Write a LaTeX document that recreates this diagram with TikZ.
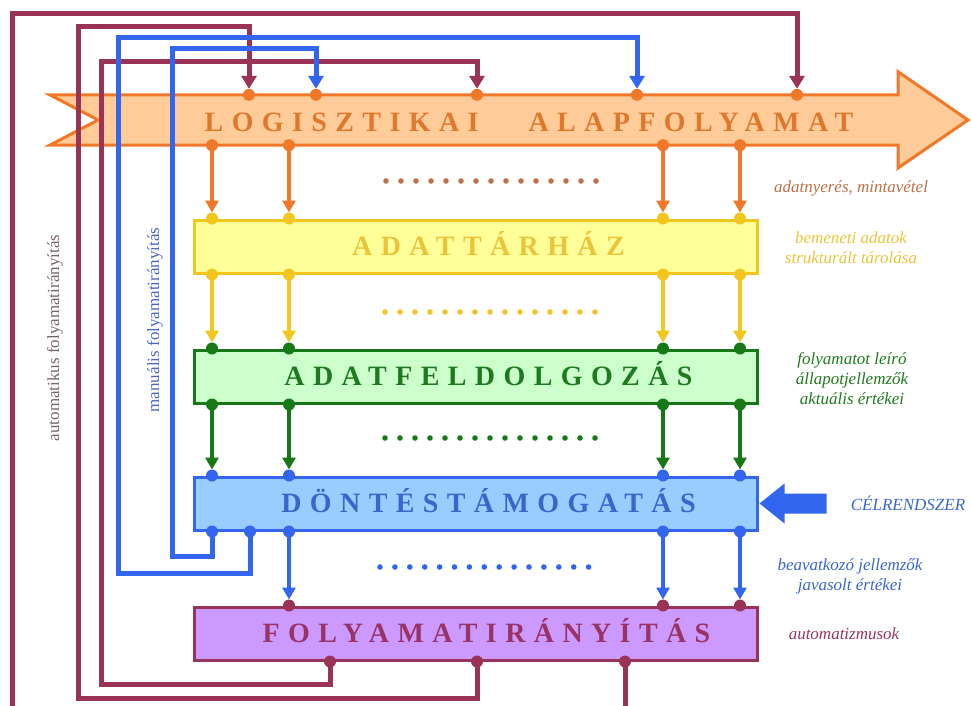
\documentclass[tikz,border=0pt]{standalone}
\usepackage{fontspec}
\usepackage{tikz}
\usetikzlibrary{arrows.meta}
\newfontfamily\titlefont{Liberation Serif}[LetterSpace=30]
\newfontfamily\notefont{Liberation Serif}
\definecolor{logorange}{HTML}{F07828}
\definecolor{logfill}{HTML}{FFCC99}
\definecolor{logtext}{HTML}{E0782C}
\definecolor{taryellow}{HTML}{F2C61E}
\definecolor{tarfill}{HTML}{FFFF99}
\definecolor{tartext}{HTML}{ECC43A}
\definecolor{procgreen}{HTML}{167816}
\definecolor{procfill}{HTML}{CCFFCC}
\definecolor{proctext}{HTML}{1F7A1F}
\definecolor{decblue}{HTML}{3366EE}
\definecolor{decfill}{HTML}{99CCFF}
\definecolor{dectext}{HTML}{3A66CC}
\definecolor{ctrlred}{HTML}{993358}
\definecolor{ctrlfill}{HTML}{CC99FF}
\definecolor{ctrltext}{HTML}{993366}
\definecolor{notebrown}{HTML}{C07048}
\definecolor{autogray}{HTML}{7A6464}
\definecolor{manblue}{HTML}{4A66C8}
\tikzset{
    stage-box/.style 2 args = {draw=#1, fill=#2, rectangle, line width=3pt, minimum width=563pt, minimum height=53pt, inner sep=0pt},
    stage-title/.style = {text=#1, font=\titlefont\bfseries\fontsize{28}{32}\selectfont, inner sep=0pt, text height=18.5pt, text depth=0pt},
    flow-arrow/.style = {draw=#1, line width=4pt, shorten >=6pt, -{Triangle[width=13pt,length=12pt]}},
    loop-line/.style = {draw=#1, line width=5pt, shorten >=6pt, -{Triangle[width=15pt,length=13pt]}},
    side-note/.style = {text=#1, font=\notefont\itshape\fontsize{17}{20}\selectfont, align=center, inner sep=0pt},
    loop-note/.style = {text=#1, font=\notefont\fontsize{17}{20}\selectfont, rotate=90, inner sep=0pt},
}

\begin{document}
\begin{tikzpicture}[x=1pt, y=-1pt]
\useasboundingbox (0,0) rectangle (971,706);
\clip (0,0) rectangle (971,706);

\coordinate (colA) at (212,0);
\coordinate (colB) at (250,0);
\coordinate (colC) at (289,0);
\coordinate (colD) at (663,0);
\coordinate (colE) at (740,0);
\coordinate (inA) at (249,0);
\coordinate (inB) at (316,0);
\coordinate (inC) at (477,0);
\coordinate (inD) at (637,0);
\coordinate (inE) at (797,0);
\coordinate (outA) at (330,0);
\coordinate (outB) at (477,0);
\coordinate (outC) at (625,0);

\node[minimum width=848pt, minimum height=50pt, inner sep=0pt] (logist) at (474,120) {};
\draw[logorange, fill=logfill, line width=3pt, line join=miter] (logist.north west) -- (logist.north east) -- ++(0,-23) -- (968,120) -- (898,168) -- (logist.south east) -- (logist.south west) -- (98,120) -- cycle;
\node[stage-title=logtext] (logisttitle) at (529,122) {LOGISZTIKAI\hspace{50pt}ALAPFOLYAMAT};

\node[stage-box={taryellow}{tarfill}] (tarhaz) at (475.5,246.5) {};
\node[stage-title=tartext] (tarhaztitle) at ([xshift=13pt]tarhaz.center) {ADATTÁRHÁZ};
\node[stage-box={procgreen}{procfill}] (feldolg) at (475.5,376.5) {};
\node[stage-title=proctext] (feldolgtitle) at ([xshift=13pt]feldolg.center) {ADATFELDOLGOZÁS};
\node[stage-box={decblue}{decfill}] (dontes) at (475.5,503.5) {};
\node[stage-title=dectext] (dontestitle) at ([xshift=13pt]dontes.center) {DÖNTÉSTÁMOGATÁS};
\node[stage-box={ctrlred}{ctrlfill}] (iranyit) at (475.5,633.5) {};
\node[stage-title=ctrltext] (iranyittitle) at ([xshift=11pt]iranyit.center) {FOLYAMATIRÁNYÍTÁS};

\draw[loop-line=ctrlred] (iranyit.south -| outC) -- ++(0,60) -| (12,14) -| (logist.north -| inE);
\draw[loop-line=ctrlred] (iranyit.south -| outB) -- ++(0,37) -| (78,27) -| (logist.north -| inA);
\draw[loop-line=ctrlred] (iranyit.south -| outA) -- ++(0,23) -| (101,62) -| (logist.north -| inC);
\draw[loop-line=decblue] (dontes.south -| colB) -- ++(0,42) -| (118,38) -| (logist.north -| inD);
\draw[loop-line=decblue] (dontes.south -| colA) -- ++(0,25) -| (172,49) -| (logist.north -| inB);

\foreach \c in {colA,colC,colD,colE} {
    \draw[flow-arrow=logorange] (logist.south -| \c) -- (tarhaz.north -| \c);
    \draw[flow-arrow=taryellow] (tarhaz.south -| \c) -- (feldolg.north -| \c);
    \draw[flow-arrow=procgreen] (feldolg.south -| \c) -- (dontes.north -| \c);
    \fill[logorange] (logist.south -| \c) circle (6pt);
    \fill[taryellow] (tarhaz.north -| \c) circle (6pt) (tarhaz.south -| \c) circle (6pt);
    \fill[procgreen] (feldolg.north -| \c) circle (6pt) (feldolg.south -| \c) circle (6pt);
    \fill[decblue] (dontes.north -| \c) circle (6pt);
}
\foreach \c in {colC,colD,colE} {
    \draw[flow-arrow=decblue] (dontes.south -| \c) -- (iranyit.north -| \c);
    \fill[ctrlred] (iranyit.north -| \c) circle (6pt);
}
\foreach \c in {colA,colB,colC,colD,colE}
    \fill[decblue] (dontes.south -| \c) circle (6pt);
\foreach \c in {inA,inB,inC,inD,inE}
    \fill[logorange] (logist.north -| \c) circle (6pt);
\foreach \c in {outA,outB,outC}
    \fill[ctrlred] (iranyit.south -| \c) circle (6pt);

\foreach \i in {0,...,14} {
    \fill[notebrown] (386+15*\i,181) circle (2.8pt);
    \fill[taryellow] (385+15*\i,312) circle (2.8pt);
    \fill[procgreen] (385+15*\i,438) circle (2.8pt);
    \fill[decblue] (380+14.9*\i,567) circle (2.8pt);
}

\fill[decblue] ([xshift=1pt]dontes.east) -- ++(25,-20) -- ++(0,10) -- ++(42,0) -- ++(0,20) -- ++(-42,0) -- ++(0,10) -- cycle;

\node[side-note=notebrown] (notelog) at (851,188) {adatnyerés, mintavétel};
\node[side-note=tartext] (notetar) at (851,248) {bemeneti adatok\\strukturált tárolása};
\node[side-note=proctext] (noteproc) at (852,379) {folyamatot leíró\\állapotjellemzők\\aktuális értékei};
\node[side-note=dectext] (notetarget) at (908,503) {CÉLRENDSZER};
\node[side-note=dectext] (notedec) at (850,576) {beavatkozó jellemzők\\javasolt értékei};
\node[side-note=ctrltext] (notectrl) at (844,634) {automatizmusok};

\node[loop-note=autogray] (noteauto) at (55,338) {automatikus folyamatirányítás};
\node[loop-note=manblue] (noteman) at (155,320) {manuális folyamatirányítás};
\end{tikzpicture}
\end{document}
